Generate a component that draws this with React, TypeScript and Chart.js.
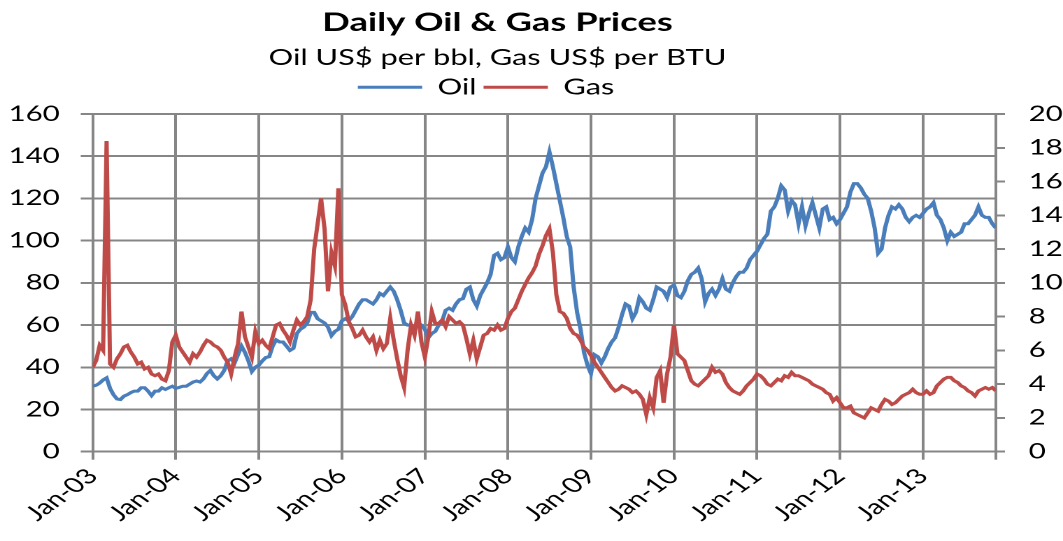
import React, { useEffect, useRef } from 'react';
import { Chart, registerables } from 'chart.js';

Chart.register(...registerables);

// ---------- data ----------
// One sample every half month, starting 1 Jan 2003 (x = months since Jan-03)
const SAMPLE_STEP_MONTHS = 0.5;
const X_END = 130.5;

const yearTicks = [0, 12, 24, 36, 48, 60, 72, 84, 96, 108, 120];
const yearLabels = ['Jan-03', 'Jan-04', 'Jan-05', 'Jan-06', 'Jan-07', 'Jan-08', 'Jan-09', 'Jan-10', 'Jan-11', 'Jan-12', 'Jan-13'];

// Oil, US$ per bbl (left axis)
const oilPrices = [
  31, 31.5, 32.5, 34, 35, 30, 27, 25, 24.7, 26.3, 27, 28, 28.7, 28.7, 30.3, 30.3, 28.7, 26.6, 28.7, 28.7, 30.3, 29.5, 30.3, 31,
  30, 30.5, 31, 31, 32, 33, 33.5, 33, 34.5, 37, 38.5, 36, 34.5, 36, 38.5, 43, 44, 42, 46, 50, 47, 43, 38, 40,
  41, 43, 44.6, 45, 50, 53, 52, 52, 50, 48, 49, 56, 58, 59, 61, 66, 66, 63, 62, 61, 59, 55, 57, 58,
  62, 63, 62, 64, 67, 70, 72, 72, 71, 70, 72, 75, 74, 76, 78, 76, 72, 67, 61, 60, 60, 59, 61, 60,
  58, 54, 56, 57, 60, 62, 67, 68, 67, 70, 72, 72.5, 77, 78, 72, 69, 74, 77, 80, 84, 93, 94, 91, 92,
  97, 92, 90, 97, 102, 106, 104, 110, 120, 126, 132, 135, 142, 135, 127, 119, 111, 102, 97, 78, 66, 58, 47, 41,
  37, 46, 45, 42, 45, 49, 52, 54, 59, 65, 70, 69, 63, 66, 73, 71, 68, 67, 72, 78, 77, 76, 73, 78,
  79, 74, 73, 76, 81, 84, 85, 87, 82, 71, 75, 77, 74, 77, 82, 77, 76, 80, 83, 85, 85, 87, 91, 93,
  95, 98, 101, 103, 114, 116, 120, 126, 124, 114, 119, 117, 108, 116, 107, 113, 118, 112, 106, 115, 116, 110, 111, 108,
  110, 113, 116, 123, 127, 127, 125, 122, 120, 114, 106, 94, 96, 106, 112, 116, 115, 117, 115, 111, 109, 111, 112, 111,
  113, 115, 116, 118, 112, 110, 106, 100, 104, 102, 103, 104, 108, 108, 110, 112, 116, 112, 111, 111, 108, 106,
];

// Gas, US$ per BTU (right axis)
const gasPrices = [
  5.0, 5.4, 6.3, 6.0, 18.4, 5.2, 5.0, 5.5, 5.8, 6.2, 6.3, 5.9, 5.6, 5.2, 5.3, 4.9, 5.0, 4.6, 4.5, 4.6, 4.3, 4.2, 4.8, 6.5,
  6.9, 6.2, 5.9, 5.6, 5.3, 5.8, 5.6, 5.9, 6.3, 6.6, 6.5, 6.3, 6.2, 6.0, 5.6, 5.3, 4.6, 5.6, 6.4, 8.3, 6.8, 6.2, 5.6, 7.1,
  6.4, 6.6, 6.3, 6.1, 6.8, 7.5, 7.6, 7.2, 6.9, 6.5, 7.2, 7.8, 7.5, 7.7, 8.0, 9.0, 12.0, 13.5, 15.0, 13.2, 9.5, 11.8, 11.0, 15.6,
  9.3, 8.7, 7.7, 7.3, 6.8, 6.9, 7.2, 6.8, 6.5, 6.8, 6.0, 6.6, 6.1, 6.4, 7.9, 6.6, 5.5, 4.5, 3.8, 6.0, 7.5, 6.9, 8.3, 6.5,
  5.6, 6.8, 8.3, 7.6, 7.6, 7.8, 7.4, 8.0, 7.8, 7.6, 7.7, 7.5, 6.7, 5.8, 6.6, 5.5, 6.2, 6.9, 7.0, 7.3, 7.2, 7.5, 7.2, 7.3,
  7.9, 8.3, 8.5, 9.0, 9.5, 9.9, 10.3, 10.6, 11.0, 11.7, 12.2, 12.8, 13.2, 11.8, 9.3, 8.3, 8.2, 7.9, 7.3, 7.0, 6.9, 6.6, 6.2, 6.0,
  5.7, 5.3, 5.0, 4.7, 4.4, 4.1, 3.8, 3.6, 3.7, 3.9, 3.8, 3.7, 3.5, 3.6, 3.4, 3.1, 2.2, 3.2, 2.6, 4.4, 4.8, 2.9, 4.6, 5.6,
  7.5, 5.8, 5.6, 5.4, 4.8, 4.2, 4.0, 3.9, 4.1, 4.3, 4.5, 5.0, 4.7, 4.8, 4.6, 4.1, 3.8, 3.6, 3.5, 3.4, 3.6, 3.9, 4.1, 4.3,
  4.6, 4.5, 4.3, 4.0, 3.9, 4.1, 4.3, 4.2, 4.5, 4.4, 4.7, 4.5, 4.5, 4.4, 4.3, 4.2, 4.0, 3.9, 3.8, 3.7, 3.5, 3.4, 3.0, 3.2,
  2.9, 2.6, 2.6, 2.7, 2.3, 2.2, 2.1, 2.0, 2.3, 2.6, 2.5, 2.4, 2.8, 3.1, 3.0, 2.8, 2.9, 3.1, 3.3, 3.4, 3.5, 3.7, 3.5, 3.4,
  3.4, 3.6, 3.4, 3.5, 3.9, 4.1, 4.3, 4.4, 4.4, 4.2, 4.1, 3.9, 3.8, 3.6, 3.5, 3.3, 3.6, 3.7, 3.8, 3.7, 3.8, 3.6,
];

// ---------- layout / style ----------
const VIEW_W = 1063;
const VIEW_H = 541;
const STRETCH = 1063 / 760;
const W = 800; // canvas drawing width (the part past the visible area is clipped)
const H = 541;
const FONT = 'Lato';
const GRID = '#868686';
const OIL_COLOR = '#4A7EBB';
const GAS_COLOR = '#BE4B48';
const LEGEND_GAP = 5.8;
const PLOT_LEFT = 66.3;
const PLOT_RIGHT = 711.9;
const TITLE_CENTER = 355.7;
const LEGEND_CENTER = 347.5;

const headerLayout = {
  id: 'headerLayout',
  beforeLayout(chart: any) {
    const lg: any = chart.legend;
    if (lg && !lg._gapPatched) {
      const fit = lg.fit.bind(lg);
      lg.fit = function () {
        fit();
        this.height += LEGEND_GAP;
      };
      lg._gapPatched = true;
    }
  },
  afterLayout(chart: any) {
    (chart.boxes || []).forEach((b: any) => {
      if (b.position === 'top' && b.fullSize) {
        const center = b === chart.legend ? LEGEND_CENTER : TITLE_CENTER;
        b.right = b.left + 2 * (center - b.left);
        b.width = b.right - b.left;
      }
    });
  },
};

export default function App() {
  const ref = useRef<HTMLCanvasElement>(null);

  useEffect(() => {
    if (!ref.current) return;
    const toPoints = (arr: number[]) => arr.map((v, i) => ({ x: i * SAMPLE_STEP_MONTHS, y: v }));
    const chart = new Chart(ref.current, {
      type: 'line',
      data: {
        datasets: [
          {
            label: 'Oil',
            data: toPoints(oilPrices),
            borderColor: OIL_COLOR,
            backgroundColor: OIL_COLOR,
            borderWidth: 3,
            pointRadius: 0,
            tension: 0,
            yAxisID: 'y',
            order: 1,
          },
          {
            label: 'Gas',
            data: toPoints(gasPrices),
            borderColor: GAS_COLOR,
            backgroundColor: GAS_COLOR,
            borderWidth: 3,
            pointRadius: 0,
            tension: 0,
            yAxisID: 'y1',
            order: 0,
          },
        ],
      },
      options: {
        animation: false,
        responsive: false,
        devicePixelRatio: 2,
        layout: { padding: 0 },
        plugins: {
          title: {
            display: true,
            text: 'Daily Oil & Gas Prices',
            color: '#000',
            font: { family: FONT, size: 26, weight: 'bold' },
            padding: { top: 7, bottom: 0 },
          },
          subtitle: {
            display: true,
            text: 'Oil US$ per bbl, Gas US$ per BTU',
            color: '#000',
            font: { family: FONT, size: 22 },
            padding: { top: 6.6, bottom: 0 },
          },
          legend: {
            display: true,
            position: 'top',
            labels: {
              usePointStyle: true,
              pointStyle: 'line',
              pointStyleWidth: 46,
              boxWidth: 46,
              color: '#000',
              font: { family: FONT, size: 22 },
              padding: 5,
              sort: (a: any, b: any) => a.datasetIndex - b.datasetIndex,
            },
          },
          tooltip: { enabled: false },
        },
        scales: {
          x: {
            type: 'linear',
            min: 0,
            max: X_END,
            afterBuildTicks: (scale: any) => {
              scale.ticks = [...yearTicks, X_END].map((v) => ({ value: v }));
            },
            afterFit: (scale: any) => {
              scale.height = H - 451.7;
            },
            ticks: {
              autoSkip: false,
              maxRotation: 45,
              minRotation: 45,
              color: '#000',
              font: { family: FONT, size: 21 },
              padding: 4,
              callback: (value: any) => {
                const i = yearTicks.indexOf(Number(value));
                return i >= 0 ? yearLabels[i] : '';
              },
            },
            grid: { color: GRID, lineWidth: 2, tickLength: 8 },
            border: { display: true, color: GRID, width: 2 },
          },
          y: {
            type: 'linear',
            position: 'left',
            min: 0,
            max: 160,
            afterFit: (scale: any) => {
              scale.width = PLOT_LEFT;
            },
            ticks: {
              stepSize: 20,
              color: '#000',
              font: { family: FONT, size: 21 },
              padding: 15,
            },
            grid: { color: GRID, lineWidth: 2, tickLength: 8.6 },
            border: { display: true, color: GRID, width: 2 },
          },
          y1: {
            type: 'linear',
            position: 'right',
            min: 0,
            max: 20,
            afterFit: (scale: any) => {
              scale.width = W - PLOT_RIGHT;
            },
            ticks: {
              stepSize: 2,
              color: '#000',
              font: { family: FONT, size: 21 },
              padding: 17,
            },
            grid: { drawOnChartArea: false, color: GRID, lineWidth: 2, tickLength: 6.6 },
            border: { display: true, color: GRID, width: 2 },
          },
        },
      } as any,
      plugins: [headerLayout as any],
    });
    return () => chart.destroy();
  }, []);

  return (
    <div
      style={{
        position: 'fixed',
        left: 0,
        top: 0,
        width: VIEW_W,
        height: VIEW_H,
        overflow: 'hidden',
        background: '#fff',
      }}
    >
      <div
        style={{
          width: W,
          height: H,
          transform: `scaleX(${STRETCH})`,
          transformOrigin: '0 0',
        }}
      >
        <canvas ref={ref} width={W} height={H} style={{ display: 'block' }} />
      </div>
    </div>
  );
}
